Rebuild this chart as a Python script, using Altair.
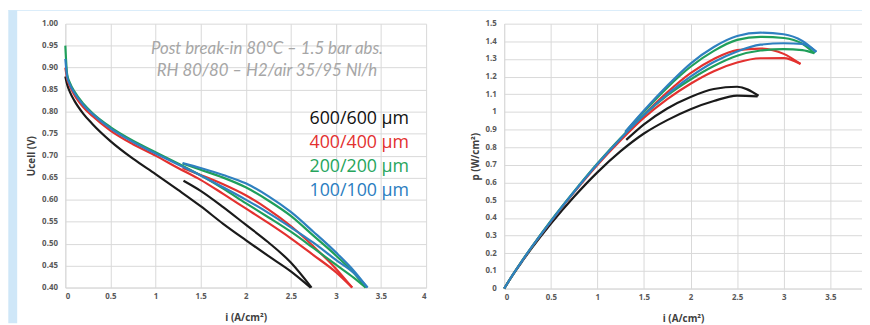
import altair as alt
import pandas as pd

series = ["600/600 µm", "400/400 µm", "200/200 µm", "100/100 µm"]
colors = ["#1a1a1a", "#e3312f", "#1f9f5a", "#2f80c0"]

# ---------- polarisation curves (Ucell vs i) ----------
# full scan branches (start at i = 0)
blk_full_i = [0, 0.02, 0.05, 0.1, 0.2, 0.3, 0.5, 0.75, 1.0, 1.25, 1.5, 1.75, 2.0, 2.25, 2.5, 2.72]
blk_full_u = [0.88, 0.862, 0.845, 0.825, 0.795, 0.772, 0.733, 0.693, 0.658, 0.622, 0.585, 0.545, 0.508, 0.472, 0.437, 0.40]
red_full_i = [0, 0.02, 0.05, 0.1, 0.2, 0.3, 0.5, 0.75, 1.0, 1.25, 1.5, 1.75, 2.0, 2.25, 2.5, 2.75, 3.0, 3.18]
red_full_u = [0.90, 0.875, 0.858, 0.838, 0.81, 0.79, 0.757, 0.726, 0.70, 0.672, 0.645, 0.613, 0.58, 0.547, 0.512, 0.474, 0.435, 0.40]
grn_full_i = [0, 0.02, 0.05, 0.1, 0.2, 0.3, 0.5, 0.75, 1.0, 1.25, 1.5, 1.75, 2.0, 2.25, 2.5, 2.75, 3.0, 3.2, 3.33]
grn_full_u = [0.95, 0.885, 0.866, 0.846, 0.818, 0.797, 0.765, 0.734, 0.708, 0.682, 0.655, 0.625, 0.592, 0.56, 0.527, 0.49, 0.452, 0.422, 0.40]
blu_full_i = [0, 0.02, 0.05, 0.1, 0.2, 0.3, 0.5, 0.75, 1.0, 1.25, 1.5, 1.75, 2.0, 2.25, 2.5, 2.75, 3.0, 3.2, 3.35]
blu_full_u = [0.92, 0.88, 0.862, 0.843, 0.815, 0.795, 0.762, 0.731, 0.705, 0.68, 0.655, 0.628, 0.60, 0.57, 0.537, 0.502, 0.463, 0.433, 0.40]
# return scan branches (high current back to ~1.3 A/cm2)
blk_ret_i = [1.31, 1.5, 1.75, 2.0, 2.25, 2.5, 2.73]
blk_ret_u = [0.643, 0.62, 0.583, 0.543, 0.503, 0.457, 0.40]
red_ret_i = [1.3, 1.5, 1.75, 2.0, 2.25, 2.5, 2.75, 3.0, 3.18]
red_ret_u = [0.672, 0.656, 0.635, 0.61, 0.578, 0.54, 0.494, 0.443, 0.40]
grn_ret_i = [1.3, 1.5, 1.75, 2.0, 2.25, 2.5, 2.75, 3.0, 3.2, 3.33]
grn_ret_u = [0.682, 0.668, 0.65, 0.628, 0.598, 0.563, 0.518, 0.473, 0.433, 0.40]
blu_ret_i = [1.3, 1.5, 1.75, 2.0, 2.25, 2.5, 2.75, 3.0, 3.2, 3.35]
blu_ret_u = [0.683, 0.672, 0.656, 0.637, 0.608, 0.572, 0.527, 0.48, 0.438, 0.40]

# ---------- power density curves (p vs i) ----------
blk_full_p = [0, 0.017, 0.042, 0.083, 0.159, 0.232, 0.367, 0.52, 0.658, 0.778, 0.878, 0.954, 1.016, 1.062, 1.093, 1.088]
red_full_p = [0, 0.0175, 0.043, 0.084, 0.162, 0.237, 0.379, 0.545, 0.70, 0.84, 0.968, 1.073, 1.16, 1.231, 1.28, 1.304, 1.305, 1.272]
grn_full_p = [0, 0.0177, 0.0433, 0.0846, 0.164, 0.239, 0.383, 0.55, 0.708, 0.853, 0.983, 1.094, 1.184, 1.26, 1.318, 1.348, 1.356, 1.35, 1.332]
blu_full_p = [0, 0.0176, 0.0431, 0.0843, 0.163, 0.2385, 0.381, 0.548, 0.705, 0.85, 0.983, 1.099, 1.20, 1.283, 1.343, 1.381, 1.389, 1.386, 1.34]
blk_ret_p = [0.842, 0.93, 1.02, 1.085, 1.13, 1.143, 1.092]
red_ret_p = [0.874, 0.984, 1.111, 1.22, 1.30, 1.35, 1.359, 1.329, 1.272]
grn_ret_p = [0.887, 1.002, 1.138, 1.256, 1.346, 1.408, 1.425, 1.419, 1.386, 1.332]
blu_ret_p = [0.888, 1.008, 1.148, 1.274, 1.368, 1.43, 1.449, 1.44, 1.402, 1.34]

u_tick_values = [0.40, 0.45, 0.50, 0.55, 0.60, 0.65, 0.70, 0.75, 0.80, 0.85, 0.90, 0.95, 1.00]
p_tick_values = [0, 0.1, 0.2, 0.3, 0.4, 0.5, 0.6, 0.7, 0.8, 0.9, 1, 1.1, 1.2, 1.3, 1.4, 1.5]
i_tick_left = [0, 0.5, 1, 1.5, 2, 2.5, 3, 3.5, 4]
i_tick_right = [0, 0.5, 1, 1.5, 2, 2.5, 3, 3.5]

branches = [
    (series[0], "full", blk_full_i, blk_full_u, blk_full_p),
    (series[0], "ret", blk_ret_i, blk_ret_u, blk_ret_p),
    (series[1], "full", red_full_i, red_full_u, red_full_p),
    (series[1], "ret", red_ret_i, red_ret_u, red_ret_p),
    (series[2], "full", grn_full_i, grn_full_u, grn_full_p),
    (series[2], "ret", grn_ret_i, grn_ret_u, grn_ret_p),
    (series[3], "full", blu_full_i, blu_full_u, blu_full_p),
    (series[3], "ret", blu_ret_i, blu_ret_u, blu_ret_p),
]
rows = []
for s, b, ii, uu, pp in branches:
    for k, (a, u, p) in enumerate(zip(ii, uu, pp)):
        rows.append({"series": s, "curve": s + b, "k": k, "i": a, "U": u, "p": p})
df = pd.DataFrame(rows)

BLUE_BG = "#cfe7f8"
LBL = "#595959"
FONT = "Open Sans"

W1, H1 = 365, 267
W2, H2 = 362, 268

color_enc = alt.Color("series:N", scale=alt.Scale(domain=series, range=colors), legend=None)

one = alt.Data(values=[{"a": 1}])

# ---- left panel ----
left_strip = alt.Chart(one).mark_rect(color=BLUE_BG).encode(
    x=alt.value(-57.7), x2=alt.value(-48.7), y=alt.value(-13.7), y2=alt.value(H1 + 36))
left_top = alt.Chart(one).mark_rect(color=BLUE_BG).encode(
    x=alt.value(-57.7), x2=alt.value(W1 + 33), y=alt.value(-13.7), y2=alt.value(-12.7))

left_lines = alt.Chart(df).mark_line(strokeWidth=2.2, interpolate="monotone").encode(
    x=alt.X("i:Q", scale=alt.Scale(domain=[0, 4], nice=False),
            axis=alt.Axis(values=i_tick_left, format="~g", title="i (A/cm²)")),
    y=alt.Y("U:Q", scale=alt.Scale(domain=[0.4, 1.0], nice=False, zero=False),
            axis=alt.Axis(values=u_tick_values, format=".2f", title="Ucell (V)")),
    color=color_enc,
    detail="curve:N",
    order="k:Q",
)

note1 = alt.Chart(one).mark_text(text="Post break-in 80°C – 1.5 bar abs.", font="Lato", fontSize=17,
                                 fontStyle="italic", color="#a6a6a6", align="center", baseline="middle").encode(
    x=alt.value(204), y=alt.value(25.5))
note2 = alt.Chart(one).mark_text(text="RH 80/80 – H2/air 35/95 Nl/h", font="Lato", fontSize=17,
                                 fontStyle="italic", color="#a6a6a6", align="center", baseline="middle").encode(
    x=alt.value(204), y=alt.value(47.5))

legend_layers = []
for name, col, yy in zip(series, ["#111111", "#e3312f", "#27a55c", "#2a7dc0"], [96.5, 120.5, 145.5, 169.5]):
    legend_layers.append(
        alt.Chart(one).mark_text(text=name, font=FONT, fontSize=18, color=col, align="left",
                                 baseline="middle").encode(x=alt.value(247), y=alt.value(yy)))

left = alt.layer(left_strip, left_top, left_lines, note1, note2, *legend_layers).properties(width=W1, height=H1)

# ---- right panel ----
right_top = alt.Chart(one).mark_rect(color=BLUE_BG).encode(
    x=alt.value(-46), x2=alt.value(W2), y=alt.value(-13.7), y2=alt.value(-12.7))
right_lines = alt.Chart(df).mark_line(strokeWidth=2.2, interpolate="monotone").encode(
    x=alt.X("i:Q", scale=alt.Scale(domain=[0, 3.84], nice=False),
            axis=alt.Axis(values=i_tick_right, format="~g", title="i (A/cm²)")),
    y=alt.Y("p:Q", scale=alt.Scale(domain=[0, 1.5], nice=False),
            axis=alt.Axis(values=p_tick_values, format="~g", title="p (W/cm²)")),
    color=color_enc,
    detail="curve:N",
    order="k:Q",
)
right = alt.layer(right_top, right_lines).properties(width=W2, height=H2)

chart = alt.hconcat(left, right, spacing=0).properties(
    background="white",
    padding={"left": 0, "top": 0, "right": 0, "bottom": 0},
).configure_view(stroke=None).configure_axis(
    grid=True, gridColor="#d9d9d9", gridWidth=1,
    domainColor="#d9d9d9", ticks=False,
    labelFont=FONT, labelFontSize=8, labelFontWeight="bold", labelColor=LBL,
    titleFont=FONT, titleFontSize=10, titleFontWeight="bold", titleColor="#404040",
).configure_axisX(labelPadding=5, titlePadding=12).configure_axisY(labelPadding=8, titlePadding=5)

chart.save("out.html", embed_options={"renderer": "svg", "actions": False})
